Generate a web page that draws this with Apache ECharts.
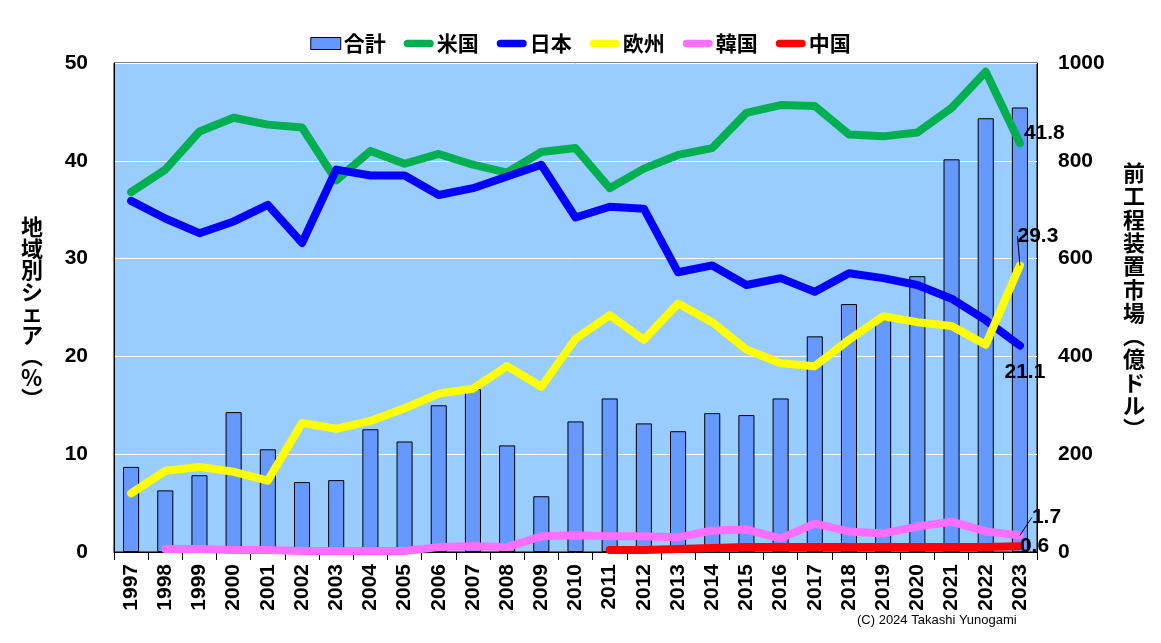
<!DOCTYPE html>
<html>
<head>
<meta charset="utf-8">
<script src="https://cdn.jsdelivr.net/npm/echarts@6/dist/echarts.min.js"></script>
<style>
html,body{margin:0;padding:0;background:#fff;}
#main{width:1161px;height:643px;}
</style>
</head>
<body>
<div id="main"></div>
<script>
const years = ['1997','1998','1999','2000','2001','2002','2003','2004','2005','2006','2007','2008','2009','2010','2011','2012','2013','2014','2015','2016','2017','2018','2019','2020','2021','2022','2023'];
const total = [174,126,157,286,210,143,147,251,226,300,333,218,114,267,314,263,247,284,280,314,441,507,475,564,803,887,909];
const us = [36.8,39.1,43.0,44.4,43.7,43.4,38.0,41.0,39.7,40.7,39.6,38.8,40.9,41.3,37.2,39.2,40.6,41.3,44.9,45.7,45.6,42.7,42.5,42.9,45.4,49.1,41.8];
const japan = [35.9,34.1,32.6,33.8,35.5,31.6,39.1,38.5,38.5,36.5,37.2,38.4,39.6,34.2,35.3,35.1,28.6,29.3,27.3,28.0,26.6,28.5,28.0,27.3,25.9,23.7,21.1];
const europe = [6.0,8.3,8.7,8.2,7.3,13.2,12.6,13.4,14.7,16.2,16.7,19.0,16.9,21.8,24.2,21.7,25.4,23.5,20.7,19.3,19.0,21.7,24.1,23.5,23.1,21.2,29.3];
const korea = [null,0.3,0.3,0.2,0.2,0.1,0.1,0.1,0.1,0.5,0.6,0.5,1.6,1.7,1.6,1.6,1.5,2.2,2.3,1.4,2.9,2.1,1.9,2.6,3.1,2.1,1.7];
const china = [null,null,null,null,null,null,null,null,null,null,null,null,null,null,0.2,0.2,0.3,0.4,0.5,0.5,0.5,0.5,0.5,0.5,0.5,0.5,0.6];
const seriesNames = ['合計','米国','日本','欧州','韓国','中国'];
const leftTicks = {min:0, max:50, interval:10};
const rightTicks = {min:0, max:1000, interval:200};

const NUM_FONT = '"Liberation Sans Narrow","Liberation Sans",Arial,sans-serif';
const JP_FONT = '"Noto Sans CJK JP",sans-serif';
const LINE_ICON = 'path://M4,0 L28,0 A4,4 0 0 1 28,8 L4,8 A4,4 0 0 1 4,0 Z';

function lastLabeled(arr, pos, dist) {
  return arr.map((v, i) => {
    if (i !== arr.length - 1) return v;
    return {value: v, label: {show: true, position: pos, distance: dist,
      formatter: (p) => Number(p.value).toFixed(1),
      fontFamily: NUM_FONT, fontWeight: 'bold', fontSize: 21, color: '#000'}};
  });
}

function lineSeries(name, data, color, pos, dist, layout, showLine) {
  return {
    name: name, type: 'line', yAxisIndex: 0,
    data: lastLabeled(data, pos, dist),
    symbol: 'circle', symbolSize: 0, showSymbol: true,
    lineStyle: {color: color, width: 8, cap: 'round', join: 'round'},
    itemStyle: {color: color},
    labelLayout: layout,
    labelLine: {show: !!showLine, lineStyle: {color: '#000', width: 1}},
    emphasis: {disabled: true},
    animation: false
  };
}

const chart = echarts.init(document.getElementById('main'), null, {renderer: 'canvas'});
chart.setOption({
  animation: false,
  backgroundColor: '#fff',
  legend: {
    top: 28, left: 'center',
    itemWidth: 30, itemHeight: 12, itemGap: 18,
    textStyle: {fontFamily: JP_FONT, fontWeight: 'bold', fontSize: 21, color: '#000', padding: [0,0,0,-2]},
    data: [
      {name: seriesNames[0], icon: 'rect', itemStyle: {color: '#6699FF', borderColor: '#000', borderWidth: 1}},
      {name: seriesNames[1], icon: LINE_ICON, itemStyle: {color: '#00B050'}},
      {name: seriesNames[2], icon: LINE_ICON, itemStyle: {color: '#0000FF'}},
      {name: seriesNames[3], icon: LINE_ICON, itemStyle: {color: '#FFFF00'}},
      {name: seriesNames[4], icon: LINE_ICON, itemStyle: {color: '#FF6EFF'}},
      {name: seriesNames[5], icon: LINE_ICON, itemStyle: {color: '#FF0000'}}
    ]
  },
  grid: {left: 114, right: 124, top: 63, bottom: 91, show: true, backgroundColor: '#99CCFF', borderColor: '#000', borderWidth: 1},
  xAxis: {
    type: 'category', data: years, boundaryGap: true,
    axisLine: {show: true, lineStyle: {color: '#000', width: 1}},
    axisTick: {show: true, interval: 0, length: 8, lineStyle: {color: '#000'}},
    axisLabel: {interval: 0, rotate: 90, margin: 12, fontFamily: NUM_FONT, fontWeight: 'bold', fontSize: 21, color: '#000'}
  },
  yAxis: [
    {type: 'value', min: leftTicks.min, max: leftTicks.max, interval: leftTicks.interval,
     axisLine: {show: true, lineStyle: {color: '#000'}}, axisTick: {show: false},
     splitLine: {show: true, lineStyle: {color: '#fff', width: 1}},
     axisLabel: {margin: 26, fontFamily: NUM_FONT, fontWeight: 'bold', fontSize: 21, color: '#000'}},
    {type: 'value', min: rightTicks.min, max: rightTicks.max, interval: rightTicks.interval,
     axisLine: {show: true, lineStyle: {color: '#000'}}, axisTick: {show: false},
     splitLine: {show: false},
     axisLabel: {margin: 21, formatter: (v) => String(v), fontFamily: NUM_FONT, fontWeight: 'bold', fontSize: 21, color: '#000'}}
  ],
  series: [
    {name: seriesNames[0], type: 'bar', yAxisIndex: 1, data: total, barWidth: '47%',
     itemStyle: {color: '#6699FF', borderColor: '#000', borderWidth: 1}, emphasis: {disabled: true}, animation: false},
    lineSeries(seriesNames[1], us, '#00B050', 'right', 4, {dx: 0, dy: -10}, false),
    lineSeries(seriesNames[2], japan, '#0000FF', 'bottom', 4, {dx: 5, dy: 12}, false),
    lineSeries(seriesNames[3], europe, '#FFFF00', 'top', 4, {dx: 18, dy: -15}, true),
    lineSeries(seriesNames[4], korea, '#FF6EFF', 'right', 4, {dx: 8, dy: -18}, true),
    lineSeries(seriesNames[5], china, '#FF0000', 'right', 0, {dx: 0, dy: 0}, false)
  ],
  graphic: [
    {type: 'text', left: 21, top: 216, style: {text: '地\n域\n別\nシ\nェ\nア\n︵\n%\n︶', fontFamily: JP_FONT, fontWeight: 'bold', fontSize: 22, lineHeight: 21.5, fill: '#000', align: 'center'}},
    {type: 'text', left: 1123, top: 161, style: {text: '前\n工\n程\n装\n置\n市\n場\n︵\n億\nド\nル\n︶', fontFamily: JP_FONT, fontWeight: 'bold', fontSize: 22, lineHeight: 23.3, fill: '#000', align: 'center'}},
    {type: 'text', left: 857, top: 614, style: {text: '(C) 2024 Takashi Yunogami', fontFamily: NUM_FONT, fontSize: 13, fill: '#000'}}
  ]
});
</script>
</body>
</html>
